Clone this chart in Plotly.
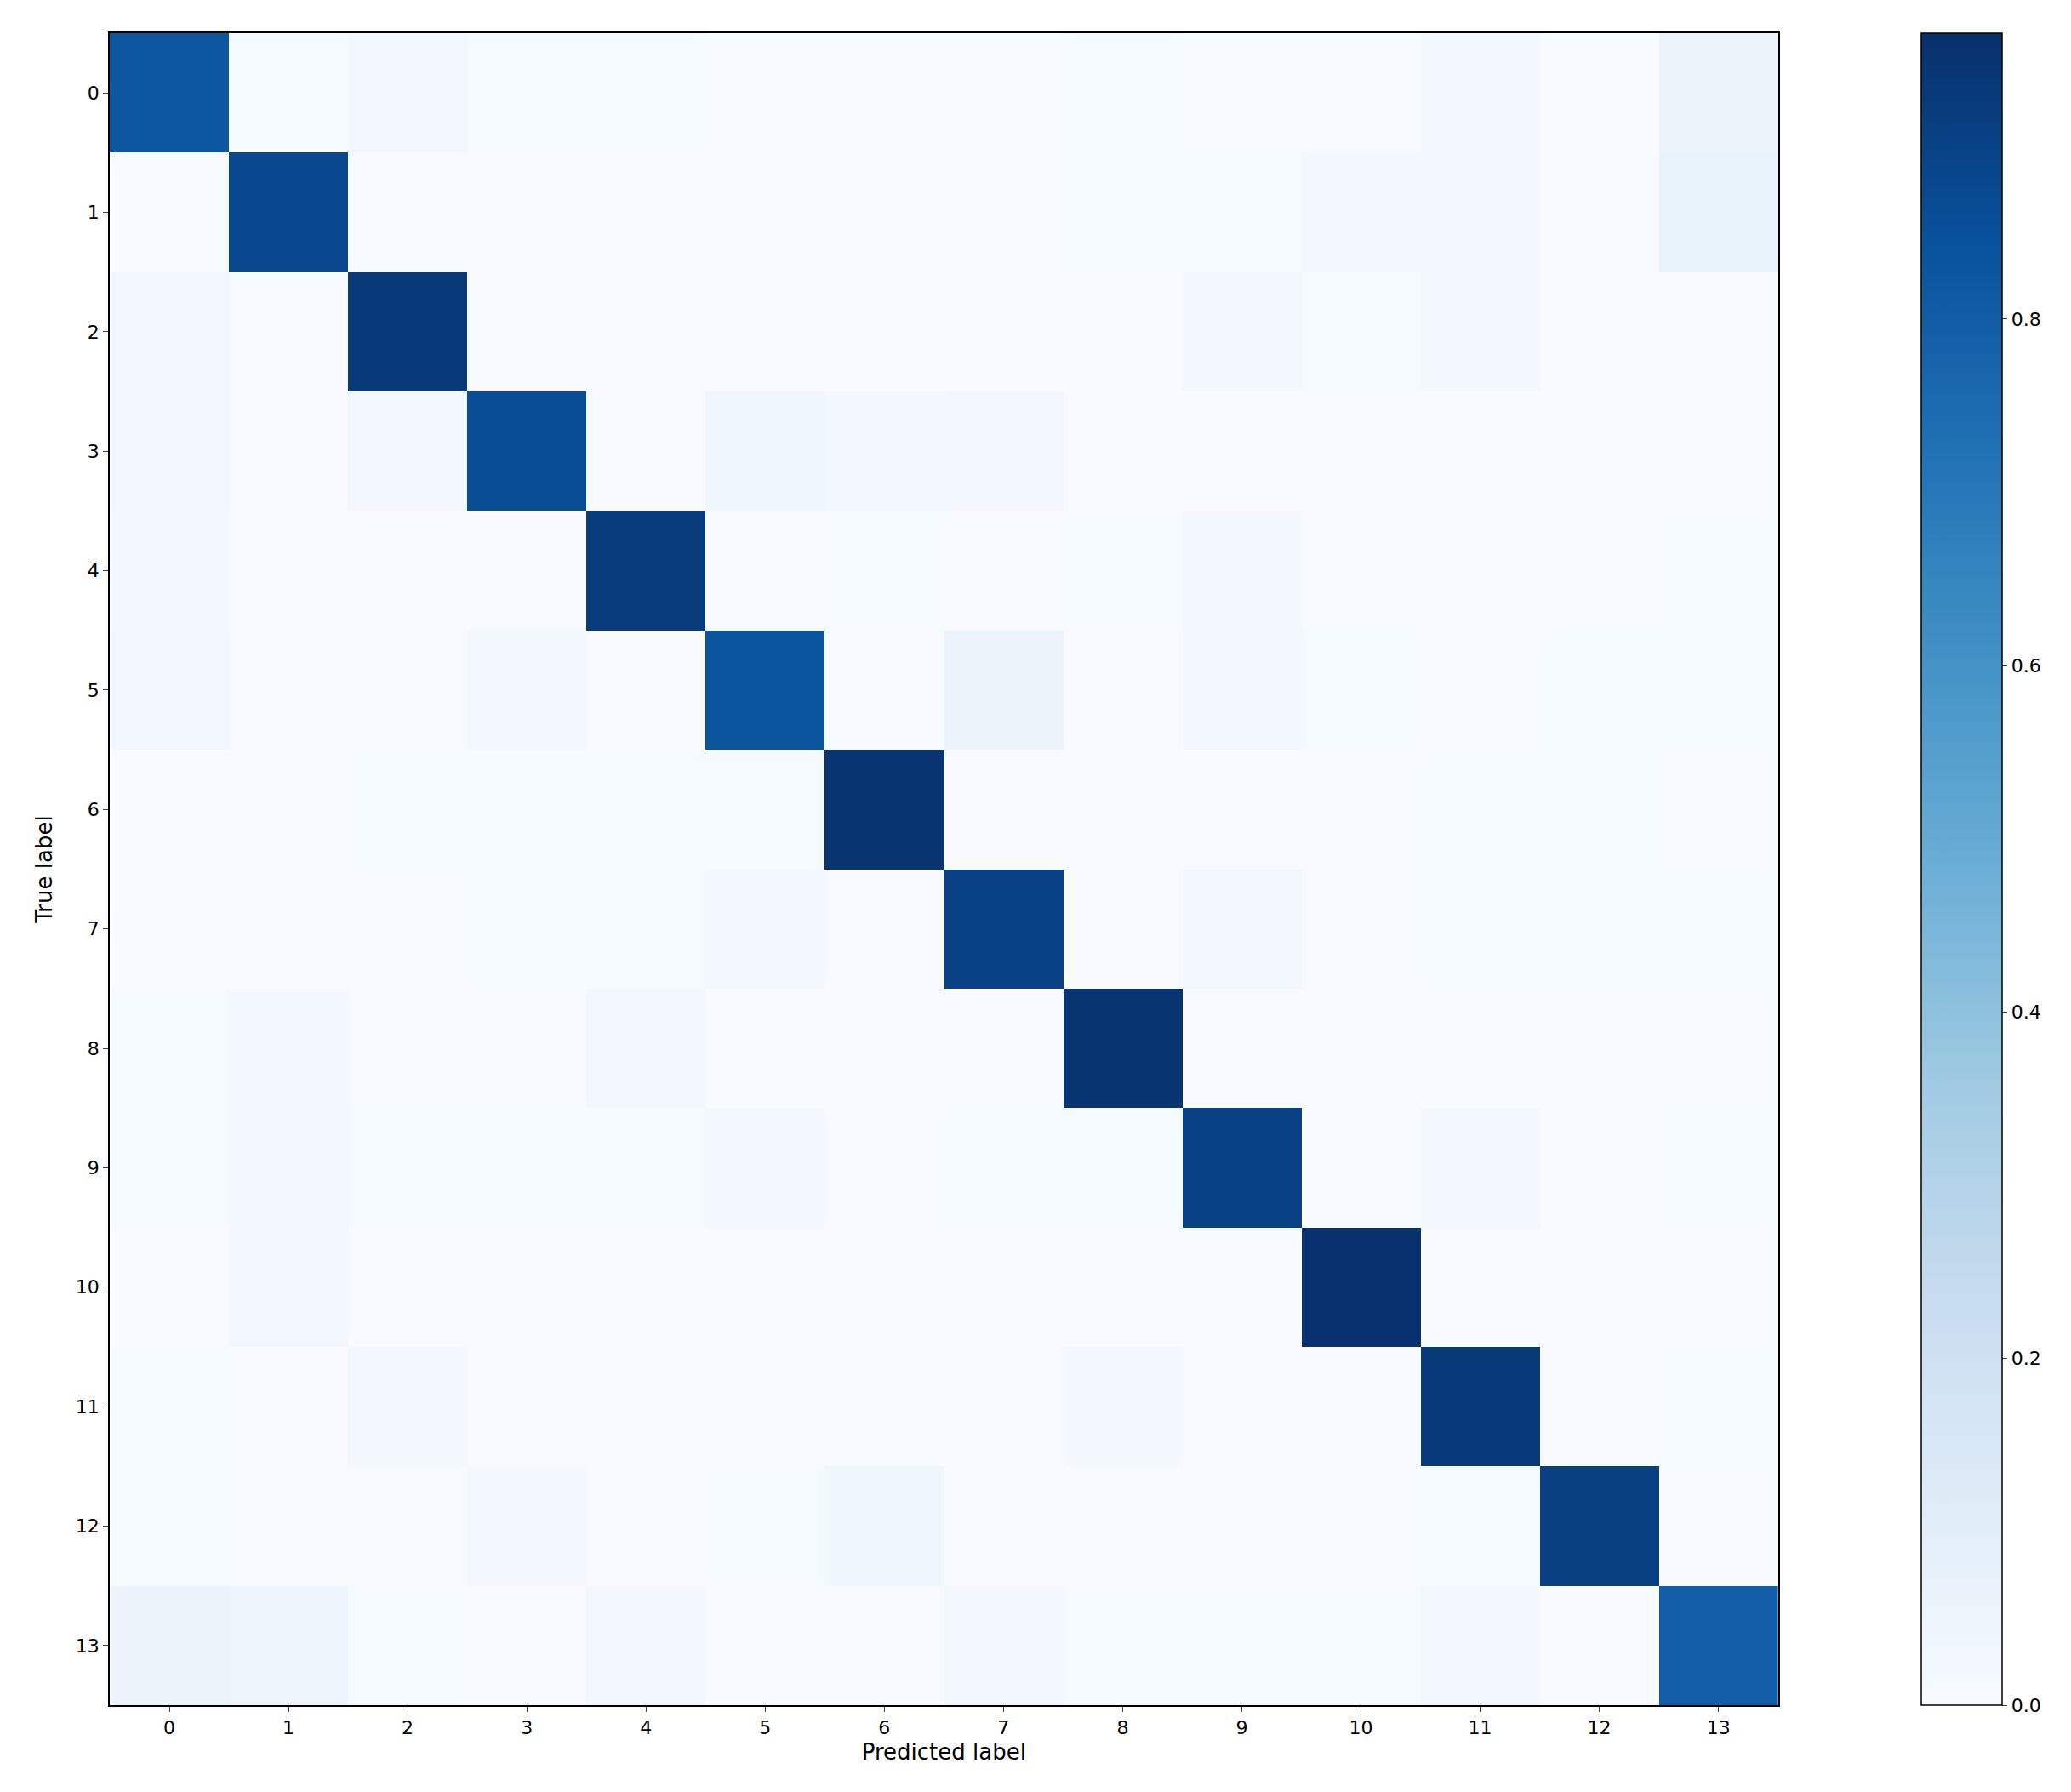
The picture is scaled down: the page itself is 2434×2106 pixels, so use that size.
import plotly.graph_objects as go

labels = [str(i) for i in range(14)]

# normalized confusion matrix, rows = true label, columns = predicted label
cm = [
    [0.82, 0.01, 0.03, 0.01, 0.01, 0.00, 0.00, 0.00, 0.01, 0.00, 0.00, 0.02, 0.00, 0.06],
    [0.00, 0.88, 0.00, 0.00, 0.00, 0.00, 0.00, 0.00, 0.01, 0.01, 0.02, 0.02, 0.00, 0.07],
    [0.03, 0.00, 0.93, 0.00, 0.00, 0.00, 0.00, 0.00, 0.00, 0.02, 0.01, 0.02, 0.00, 0.00],
    [0.03, 0.00, 0.02, 0.86, 0.00, 0.04, 0.02, 0.03, 0.00, 0.00, 0.00, 0.00, 0.00, 0.00],
    [0.02, 0.00, 0.00, 0.00, 0.92, 0.00, 0.01, 0.00, 0.01, 0.02, 0.00, 0.00, 0.00, 0.01],
    [0.03, 0.00, 0.00, 0.02, 0.00, 0.83, 0.00, 0.06, 0.00, 0.03, 0.01, 0.00, 0.01, 0.01],
    [0.00, 0.00, 0.01, 0.01, 0.01, 0.01, 0.95, 0.00, 0.00, 0.00, 0.00, 0.01, 0.01, 0.00],
    [0.00, 0.00, 0.00, 0.01, 0.01, 0.02, 0.00, 0.90, 0.00, 0.03, 0.00, 0.01, 0.01, 0.01],
    [0.01, 0.02, 0.00, 0.00, 0.02, 0.00, 0.00, 0.00, 0.95, 0.00, 0.00, 0.00, 0.00, 0.00],
    [0.01, 0.02, 0.01, 0.01, 0.01, 0.02, 0.00, 0.01, 0.01, 0.90, 0.00, 0.02, 0.00, 0.01],
    [0.00, 0.03, 0.00, 0.00, 0.00, 0.00, 0.00, 0.00, 0.00, 0.00, 0.96, 0.00, 0.00, 0.00],
    [0.01, 0.00, 0.02, 0.00, 0.00, 0.00, 0.00, 0.00, 0.02, 0.00, 0.00, 0.93, 0.00, 0.01],
    [0.01, 0.00, 0.00, 0.02, 0.00, 0.01, 0.04, 0.00, 0.00, 0.00, 0.00, 0.01, 0.91, 0.00],
    [0.06, 0.05, 0.01, 0.00, 0.02, 0.00, 0.00, 0.03, 0.01, 0.01, 0.01, 0.02, 0.00, 0.79],
]

fig = go.Figure()
fig.add_trace(
    go.Heatmap(
        z=cm,
        x=labels,
        y=labels,
        colorscale="Blues",
        zmin=0,
        zmax=0.965,
        colorbar=dict(
            x=0.953, xanchor="left", len=1, y=0.5, yanchor="middle", ypad=0,
            thickness=95, tickvals=[0, 0.2, 0.4, 0.6, 0.8],
            ticktext=["0.0", "0.2", "0.4", "0.6", "0.8"],
            ticks="outside", ticklen=6, outlinecolor="black", outlinewidth=1.5,
            tickfont=dict(size=22),
        ),
    )
)
fig.update_layout(
    width=2434, height=2106,
    margin=dict(l=121, r=90, t=31, b=110),
    plot_bgcolor="white", paper_bgcolor="white",
    font=dict(family="DejaVu Sans", size=22, color="black"),
)
fig.update_xaxes(
    domain=[0, 0.882], title=dict(text="Predicted label", standoff=8),
    ticks="outside", ticklen=6, showline=True, linecolor="black", linewidth=1.5,
    mirror=True, showgrid=False,
)
fig.update_yaxes(
    title=dict(text="True label", standoff=20), autorange="reversed",
    ticks="outside", ticklen=6, showline=True, linecolor="black", linewidth=1.5,
    mirror=True, showgrid=False,
)
fig.write_html("out.html")
